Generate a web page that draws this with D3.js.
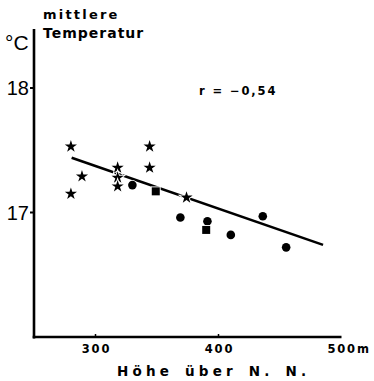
<!DOCTYPE html>
<html>
<head>
<meta charset="utf-8">
<script src="https://cdn.jsdelivr.net/npm/d3@7"></script>
<style>
  body { margin: 0; background: #fff; }
  text { fill: #000; }
</style>
</head>
<body>
<div id="chart"></div>
<script>
// data
var stars = [
  [280, 17.53], [289, 17.29], [280, 17.15], [318, 17.36], [318, 17.28],
  [318, 17.21], [344, 17.53], [344, 17.36], [374, 17.12]
];
var circles = [
  [330, 17.22], [369, 16.96], [391, 16.93], [410, 16.82], [436, 16.97], [455, 16.72]
];
var squares = [
  [349, 17.17], [390, 16.86]
];
var regression = [[280.6, 17.44], [485, 16.74]];
var xTicks = [300, 400, 500];
var yTicks = [17, 18];

var W = 374, H = 381;
var svg = d3.select("#chart").append("svg").attr("width", W).attr("height", H);

var x = d3.scaleLinear().domain([250, 500]).range([34, 341.5]);
var y = d3.scaleLinear().domain([16, 18]).range([337, 88]);

// axes
svg.append("line").attr("x1", 34).attr("x2", 34).attr("y1", 29).attr("y2", 338.5)
  .attr("stroke", "#000").attr("stroke-width", 2.6);
svg.append("line").attr("x1", 32.7).attr("x2", x(500)).attr("y1", 337).attr("y2", 337)
  .attr("stroke", "#000").attr("stroke-width", 2.4);

// y ticks
yTicks.forEach(function(t){
  svg.append("line").attr("x1", 30).attr("x2", 34).attr("y1", y(t)).attr("y2", y(t))
    .attr("stroke", "#000").attr("stroke-width", 2);
  svg.append("text").attr("x", 29).attr("y", y(t) + 7)
    .attr("text-anchor", "end")
    .style("font-family", "Liberation Sans Narrow, Liberation Sans, sans-serif")
    .style("font-size", "20px")
    .text(t);
});
svg.append("text").attr("x", 5).attr("y", 50)
  .style("font-family", "Liberation Sans, sans-serif").style("font-size", "21px")
  .text("°C");

var boldFont = "DejaVu Sans, sans-serif";

// x ticks
xTicks.forEach(function(t){
  if (t < 500) {
    svg.append("line").attr("x1", x(t)).attr("x2", x(t)).attr("y1", 337).attr("y2", 334)
      .attr("stroke", "#000").attr("stroke-width", 1.5);
  }
  svg.append("text").attr("x", t === 500 ? x(t) - 14 : x(t) + 1).attr("y", 353)
    .attr("text-anchor", t === 500 ? "start" : "middle")
    .style("font-family", boldFont).style("font-weight", "900")
    .style("font-size", "11.5px").style("letter-spacing", "1.8px")
    .text(t === 500 ? "500m" : t);
});

// titles
svg.append("text").attr("x", 43).attr("y", 19)
  .style("font-family", boldFont).style("font-weight", "bold").style("font-size", "13px")
  .style("letter-spacing", "2.2px").text("mittlere");
svg.append("text").attr("x", 43).attr("y", 38)
  .style("font-family", boldFont).style("font-weight", "bold").style("font-size", "14px")
  .style("letter-spacing", "1px").text("Temperatur");
svg.append("text").attr("x", 199).attr("y", 95)
  .style("font-family", boldFont).style("font-weight", "bold").style("font-size", "11.5px")
  .style("letter-spacing", "1.9px").text("r = −0,54");
svg.append("text").attr("x", 117).attr("y", 376)
  .style("font-family", boldFont).style("font-weight", "bold").style("font-size", "13.5px")
  .style("letter-spacing", "4.2px").style("word-spacing", "3px").text("Höhe über N. N.");

// regression line
svg.append("line")
  .attr("x1", x(regression[0][0])).attr("y1", y(regression[0][1]))
  .attr("x2", x(regression[1][0])).attr("y2", y(regression[1][1]))
  .attr("stroke", "#000").attr("stroke-width", 2.6);

// markers (white halo makes the line look broken where it passes them)
var halo = function(s){ return s.attr("fill", "#000").attr("stroke", "#fff").attr("stroke-width", 1.8).attr("paint-order", "stroke"); };

halo(svg.selectAll(".star").data(stars).enter().append("path")
  .attr("transform", function(d){ return "translate(" + x(d[0]) + "," + y(d[1]) + ")"; })
  .attr("d", d3.symbol().type(d3.symbolStar).size(46)));

halo(svg.selectAll(".dot").data(circles).enter().append("circle")
  .attr("cx", function(d){ return x(d[0]); })
  .attr("cy", function(d){ return y(d[1]); })
  .attr("r", 4.3));

halo(svg.selectAll(".sq").data(squares).enter().append("rect")
  .attr("x", function(d){ return x(d[0]) - 4; })
  .attr("y", function(d){ return y(d[1]) - 4; })
  .attr("width", 8).attr("height", 8));
</script>
</body>
</html>
